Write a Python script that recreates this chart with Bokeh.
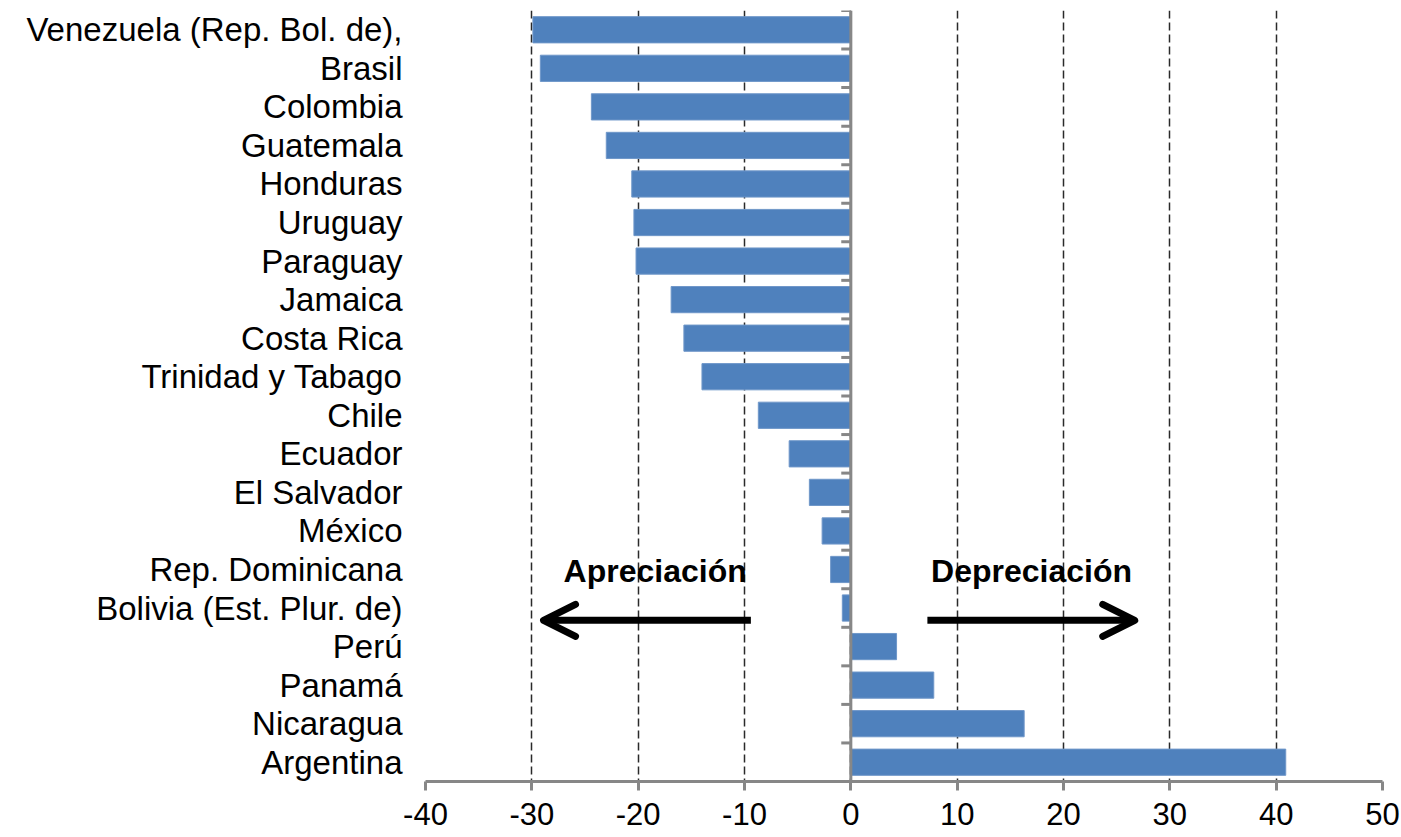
from bokeh.plotting import figure
from bokeh.models import Range1d, FixedTicker, Span, Arrow, OpenHead
from bokeh.core.properties import value
from bokeh.embed import file_html
from bokeh.resources import INLINE

# ---- data ----
countries = [
    "Venezuela (Rep. Bol. de),", "Brasil", "Colombia", "Guatemala", "Honduras",
    "Uruguay", "Paraguay", "Jamaica", "Costa Rica", "Trinidad y Tabago",
    "Chile", "Ecuador", "El Salvador", "México", "Rep. Dominicana",
    "Bolivia (Est. Plur. de)", "Perú", "Panamá", "Nicaragua", "Argentina",
]
variation = [
    -29.9, -29.2, -24.4, -23.0, -20.6,
    -20.4, -20.2, -16.9, -15.7, -14.0,
    -8.7, -5.8, -3.9, -2.7, -1.9,
    -0.8, 4.3, 7.8, 16.3, 40.9,
]
x_ticks = [-40, -30, -20, -10, 0, 10, 20, 30, 40, 50]
x_tick_labels = ["-40", "-30", "-20", "-10", "0", "10", "20", "30", "40", "50"]

# annotation texts and their positions (data units)
note_text = ["Apreciación", "Depreciación"]
note_x = [-18.4, 17.0]
note_y = [14.05, 14.05]
arrow_x_start = [-9.4, 7.2]
arrow_x_end = [-28.9, 26.7]
arrow_y = 15.32

FONT = "Liberation Sans"
BAR = "#4F81BD"
AXIS_GREY = "#878787"

n = len(countries)
idx = list(range(n))

p = figure(width=1401, height=837, output_backend="svg", toolbar_location=None,
           x_range=Range1d(x_ticks[0], x_ticks[-1]),
           y_range=Range1d(n - 0.5, -0.5),
           min_border_left=425, min_border_right=19, min_border_top=10,
           min_border_bottom=56)
p.outline_line_color = None
p.background_fill_color = "white"
p.border_fill_color = "white"

# grid
p.xgrid.ticker = FixedTicker(ticks=x_ticks)
p.xgrid.grid_line_color = "#2a2a2a"
p.xgrid.grid_line_dash = "8 4"
p.xgrid.grid_line_width = 1.5
p.ygrid.grid_line_color = None

# bars
p.hbar(y=idx, left=0, right=variation, height=0.68,
       fill_color=BAR, line_color="#6f97c9", line_width=1)

# zero axis line with category tick marks
p.add_layout(Span(location=0, dimension="height", line_color=AXIS_GREY, line_width=3))
bounds = [i - 0.5 for i in range(n + 1)]
p.segment(x0=[0] * len(bounds), x1=[-0.9] * len(bounds), y0=bounds, y1=bounds,
          line_color=AXIS_GREY, line_width=3)

# x axis
xa = p.xaxis[0]
xa.ticker = FixedTicker(ticks=x_ticks)
xa.major_label_overrides = {t: s for t, s in zip(x_ticks, x_tick_labels)}
xa.axis_line_color = AXIS_GREY
xa.axis_line_width = 3
xa.major_tick_line_color = AXIS_GREY
xa.major_tick_line_width = 3
xa.major_tick_out = 9
xa.major_tick_in = 0
xa.minor_tick_line_color = None
xa.major_label_text_font = FONT
xa.major_label_text_font_size = "31px"
xa.major_label_text_color = "black"
xa.major_label_standoff = 12

# y axis (category labels)
ya = p.yaxis[0]
ya.ticker = FixedTicker(ticks=idx)
ya.major_label_overrides = {i: c for i, c in zip(idx, countries)}
ya.axis_line_color = None
ya.major_tick_line_color = None
ya.minor_tick_line_color = None
ya.major_tick_out = 0
ya.major_tick_in = 0
ya.major_label_text_font = FONT
ya.major_label_text_font_size = "33px"
ya.major_label_text_color = "black"
ya.major_label_standoff = 23

# annotations
p.text(x=note_x, y=note_y, text=note_text, text_font=value(FONT),
       text_font_style="bold", text_font_size="32px", text_color="black",
       text_align="center", text_baseline="alphabetic")
for xs, xe in zip(arrow_x_start, arrow_x_end):
    p.add_layout(Arrow(end=OpenHead(size=32, line_width=7, line_color="black",
                                    line_cap="round", line_join="round"),
                       x_start=xs, y_start=arrow_y, x_end=xe, y_end=arrow_y,
                       line_width=7, line_color="black"))

open("out.html", "w").write(file_html(p, INLINE))
